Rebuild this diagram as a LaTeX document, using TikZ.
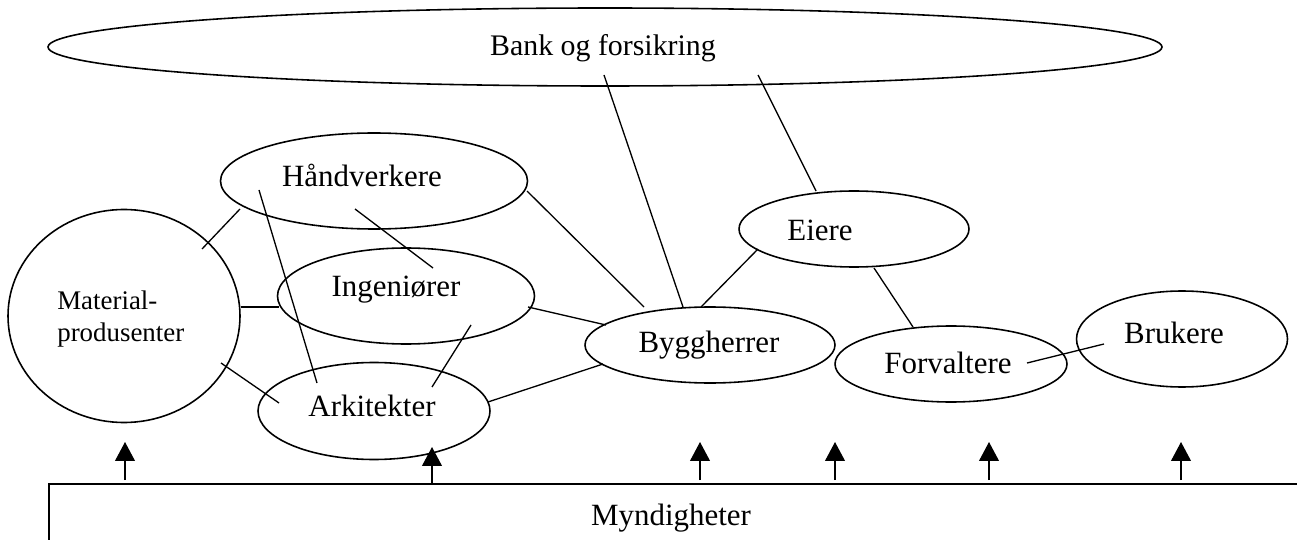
\documentclass[tikz,border=0pt]{standalone}
\usepackage{fontspec}
\setmainfont{Liberation Serif}
\usetikzlibrary{shapes.geometric,arrows.meta,calc}
\begin{document}
\begin{tikzpicture}[x=0.02cm,y=-0.02cm,
  oval/.style={draw,ellipse,line width=0.9pt,inner sep=0pt,outer sep=0pt},
  sz/.style 2 args={minimum width=#1*0.02cm,minimum height=#2*0.02cm},
  lbl/.style={font=\fontsize{17.6}{21}\selectfont,inner sep=0pt},
  smalllbl/.style={font=\fontsize{15.3}{18.2}\selectfont,inner sep=0pt,align=left,anchor=west},
  link/.style={line width=0.75pt},
  govarrow/.style={line width=0.75pt,-{Triangle[width=11.3pt,length=10.8pt]}}]
\useasboundingbox (0,0) rectangle (1297,540);
\clip (0,0) rectangle (1297,540);

% actors
\node[oval,sz={1114}{78}] (bank) at (605,47) {};
\node[lbl,font=\fontsize{17}{20}\selectfont] (bank-t) at (603,48) {Bank og forsikring};
\node[oval,sz={232}{213}] (mat) at (124,316) {};
\node[smalllbl] (mat-t) at (57,319) {Material-\\produsenter};
\node[oval,sz={307}{96}] (hand) at (374,181) {};
\node[lbl] (hand-t) at (362,175) {Håndverkere};
\node[oval,sz={257}{96}] (ing) at (406,296) {};
\node[lbl] (ing-t) at (396,290) {Ingeniører};
\node[oval,sz={232}{97}] (ark) at (374,411) {};
\node[lbl] (ark-t) at (372,406) {Arkitekter};
\node[oval,sz={250}{76}] (bygg) at (710,345) {};
\node[lbl] (bygg-t) at (709,345) {Byggherrer};
\node[oval,sz={230}{76}] (eiere) at (854,229) {};
\node[lbl] (eiere-t) at (820,230) {Eiere};
\node[oval,sz={232}{76}] (forv) at (951,364) {};
\node[lbl] (forv-t) at (948,363) {Forvaltere};
\node[oval,sz={211}{96}] (bruk) at (1182,339) {};
\node[lbl] (bruk-t) at (1174,333) {Brukere};

% authorities along the bottom
\node[draw,line width=0.9pt,anchor=north west,minimum width=1300*0.02cm,minimum height=100*0.02cm] (mynd) at (48,483) {};
\node[lbl] (mynd-t) at (671,518) {Myndigheter};

% relations
\draw[link] ($(bank)+(-1,28)$) -- ($(bygg)+(-27,-38)$);
\draw[link] ($(bank)+(153,28)$) -- ($(eiere)+(-38,-38)$);
\draw[link] ($(hand)+(153,10)$) -- ($(bygg)+(-66,-38)$);
\draw[link] ($(ing)+(122,11)$) -- ($(bygg)+(-104,-20)$);
\draw[link] ($(ark)+(114,-9)$) -- ($(bygg)+(-107,19)$);
\draw[link] ($(eiere)+(-96,20)$) -- ($(bygg)+(-9,-38)$);
\draw[link] ($(eiere)+(20,39)$) -- ($(forv)+(-38,-37)$);
\draw[link] ($(forv)+(76,-1)$) -- ($(bruk)+(-78,5)$);
\draw[link] ($(mat)+(78,-67)$) -- ($(hand)+(-134,28)$);
\draw[link] ($(hand)+(-115,9)$) -- ($(ark)+(-57,-28)$);
\draw[link] ($(hand)+(-19,28)$) -- ($(ing)+(27,-28)$);
\draw[link] ($(mat)+(117,-9)$) -- ($(ing)+(-127,11)$);
\draw[link] ($(ing)+(65,29)$) -- ($(ark)+(58,-24)$);
\draw[link] ($(mat)+(97,47)$) -- ($(ark)+(-95,-8)$);

% arrows up from the authorities
\coordinate (a1) at (125,442);
\coordinate (a2) at (432,447);
\coordinate (a3) at (700,442);
\coordinate (a4) at (835,442);
\coordinate (a5) at (989,442);
\coordinate (a6) at (1181,442);
\foreach \t in {a1,a3,a4,a5,a6}
  \draw[govarrow,shorten <=1.7pt] (mynd.north -| \t) -- (\t);
\draw[govarrow] (mynd.north -| a2) -- (a2);
\end{tikzpicture}
\end{document}
